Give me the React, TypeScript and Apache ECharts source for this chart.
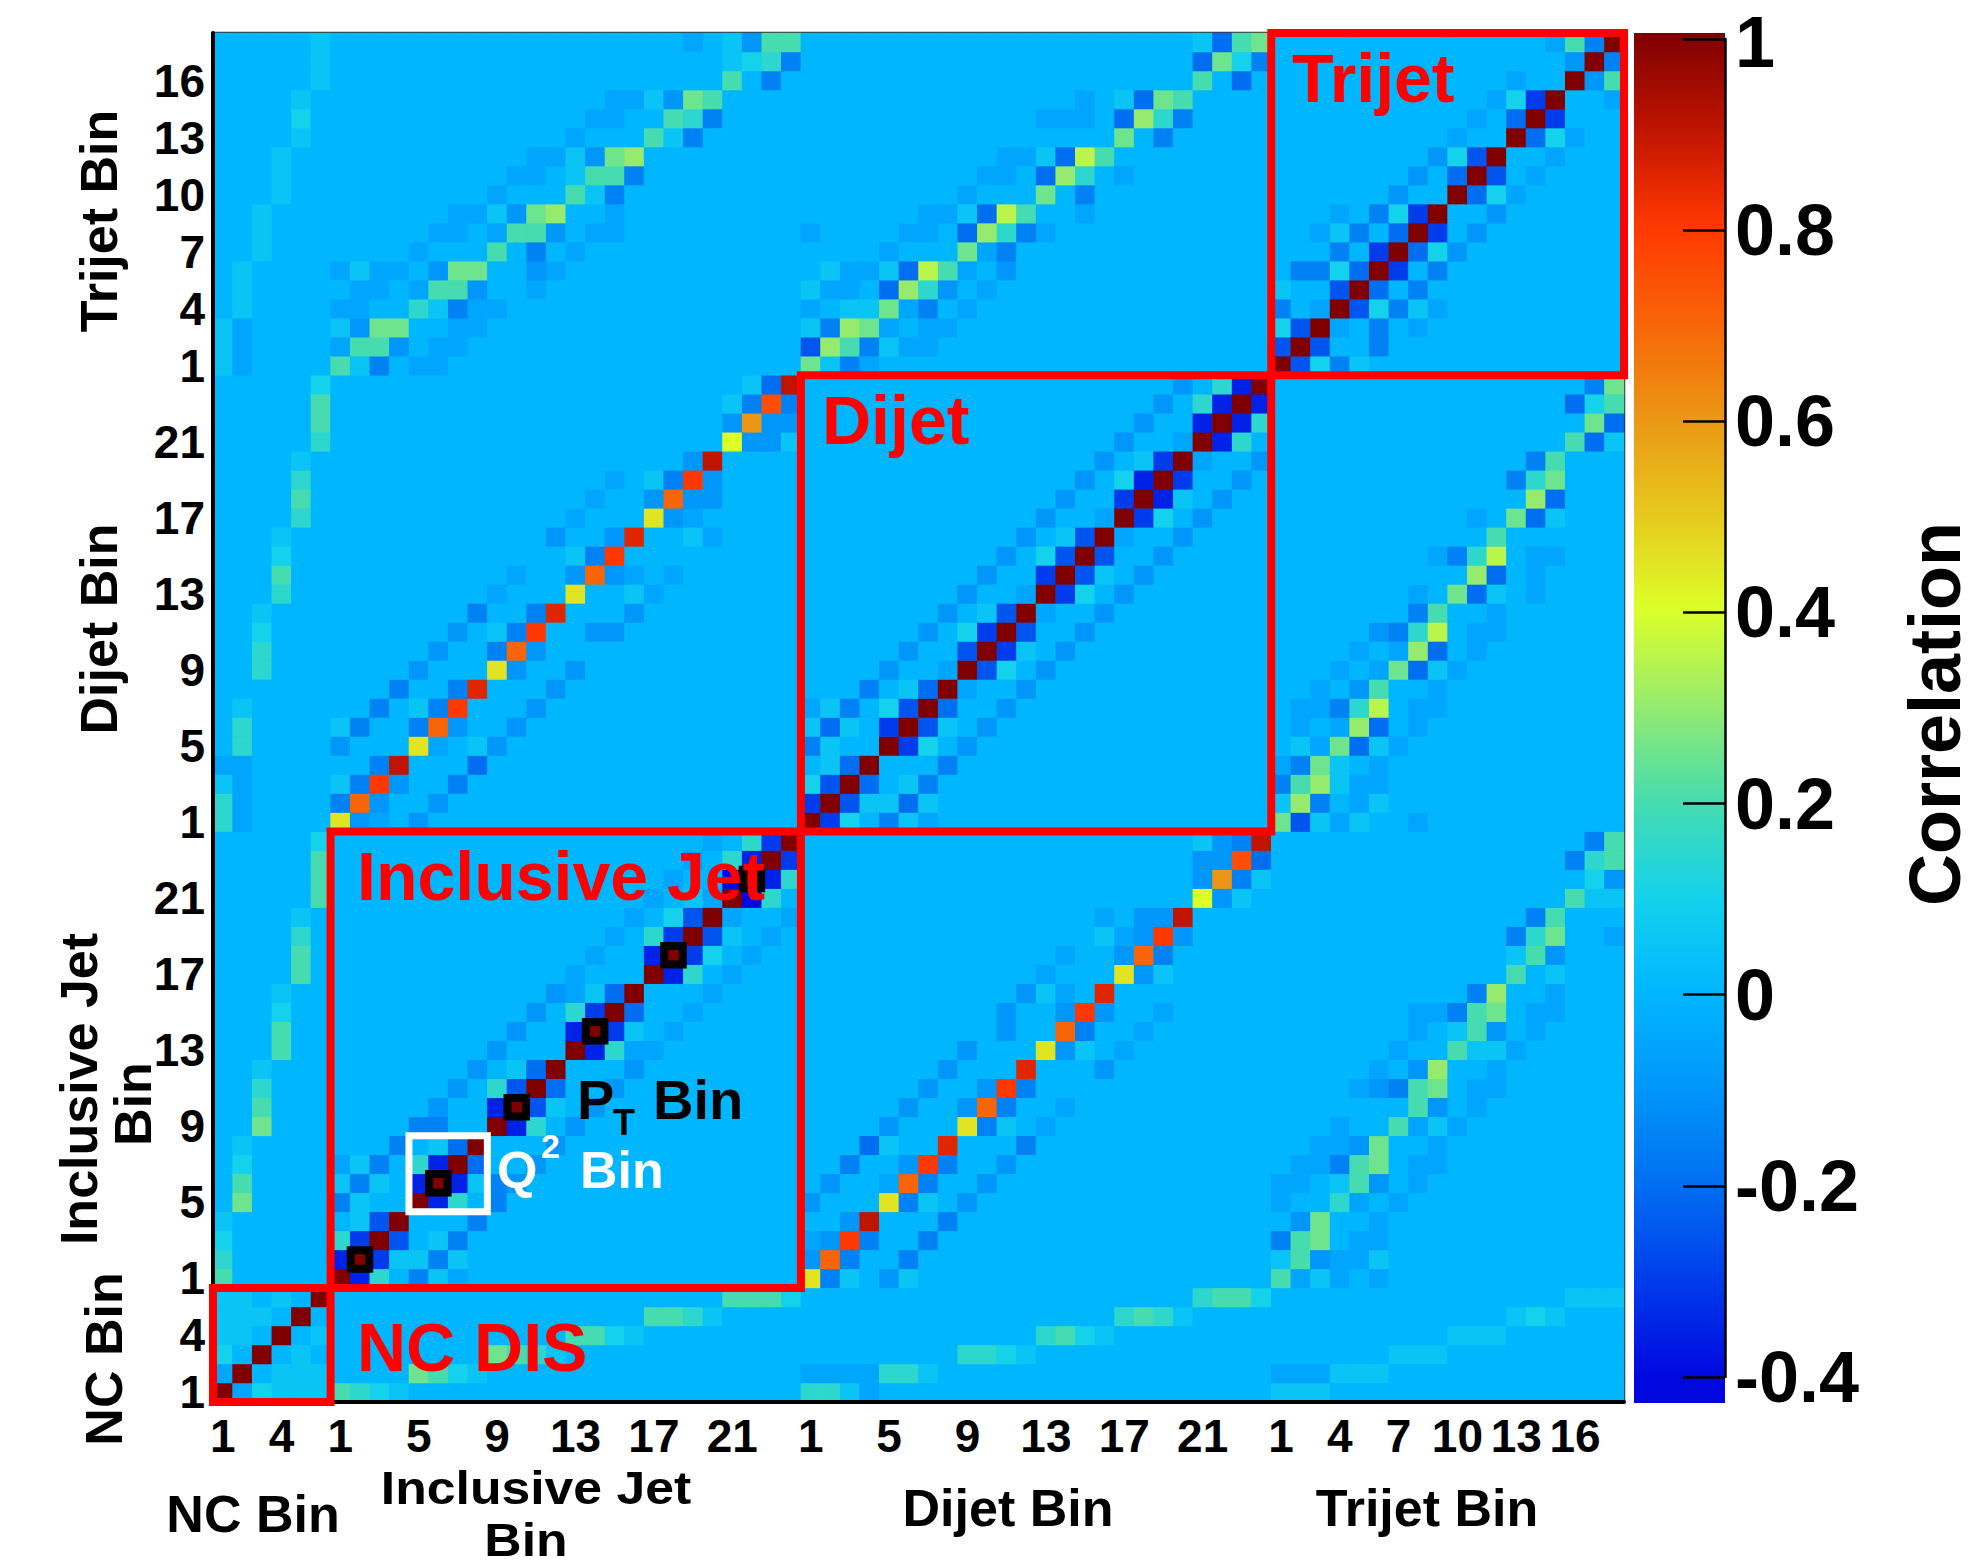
import React, { useEffect, useRef } from 'react';
import * as echarts from 'echarts';

const FONT = '"Liberation Sans", Arial, Helvetica, sans-serif';

// Measurements in matrix order and their number of bins
const blockKeys = ['NC', 'IJ', 'DJ', 'TJ'];
const blockBins = [6, 24, 24, 18];
const blockTitles = ['NC DIS', 'Inclusive Jet', 'Dijet', 'Trijet'];

// Bin numbers that carry a tick label on both axes
const ncTicks = [1, 4];
const incJetTicks = [1, 5, 9, 13, 17, 21];
const dijetTicks = [1, 5, 9, 13, 17, 21];
const trijetTicks = [1, 4, 7, 10, 13, 16];

// Inclusive-jet bins outlined in black (one p_T bin per Q^2 bin) and the Q^2 bin framed in white
const markedIncJetBins = [2, 6, 10, 14, 18, 22];
const q2FrameIncJetBins = [5, 8];

// Correlation codes and the value each code stands for
const levelCodes = 'abcdefgh0ijklmnopqrstuvwxyzYX';
const levelValues = [
  -0.4, -0.35, -0.3, -0.25, -0.2, -0.15, -0.1, -0.05, 0, 0.05, 0.1, 0.15, 0.2, 0.25, 0.3,
  0.35, 0.4, 0.45, 0.5, 0.55, 0.6, 0.65, 0.7, 0.75, 0.8, 0.85, 0.9, 0.95, 1,
];

// Colour scale, -0.4 to 1 in steps of 0.1
const scaleColors = [
  '#0008E0', '#003CEB', '#006EF0', '#0096FA', '#00B6FF', '#14D2EB', '#46DCAF', '#96EB6E',
  '#DCFF28', '#E6C81E', '#EB9614', '#F86408', '#FF3700', '#BE1400', '#800000',
];

// Upper triangle of the symmetric matrix: row i holds bins i..71.
// Blocks are separated by "|", Q^2 groups by spaces.
const ncRows = [
  'Xhjiii | lkji 0000 0000 0000 0000 0000 | kkih 0000 0000 0000 0000 0000 | iii 000 000 000 000 000',
  'X0iii | 0000 mlji 0000 0000 0000 0000 | hhhh kki0 0000 0000 0000 0000 | hhh iii 000 000 000 000',
  'X0i0 | 0000 0000 mlki 0000 0000 0000 | 0000 0000 kkji 0000 0000 0000 | 000 000 iii 000 000 000',
  'X0i | 0000 0000 0000 llji 0000 0000 | 0000 0000 0000 klji 0000 0000 | 000 000 000 iii 000 000',
  'X0 | 0000 0000 0000 0000 llki 0000 | 0000 0000 0000 0000 klki 0000 | 000 000 000 000 iji 000',
  'X | 0000 0000 0000 0000 0000 lllj | 0000 0000 0000 0000 0000 kllj | 000 000 000 000 000 iii',
];

const incJetRows = [
  'Xbk0 fih0 0000 0000 0000 0000 | qfi0 gi00 0000 0000 0000 0000 | lhi h0h 000 000 000 000',
  'Xci ifi0 0000 0000 0000 0000 | gvf0 0f00 0000 0000 0000 0000 | ilg hhi 000 000 000 000',
  'Xd 0if0 0000 0000 0000 0000 | hgxf 00f0 0000 0000 0000 0000 | flm 0hh 000 000 000 000',
  'X 000f 0000 0000 0000 0000 | 00gz 000f 0000 0000 0000 0000 | 0gm 00h 000 000 000 000',
  'Xbk0 f000 0000 0000 0000 | g000 qfi0 g000 0000 0000 0000 | h00 kh0 h00 000 000 000',
  'Xbi fg00 0000 0000 0000 | 0g00 hvf0 0g00 0000 0000 0000 | hh0 ilg 0h0 000 000 000',
  'Xe 00g0 0000 0000 0000 | 00f0 0gxf 00g0 0000 0000 0000 | 0hh flm 0hh 000 000 000',
  'X 000g 0000 0000 0000 | 000e i00y 000f 0000 0000 0000 | 00h hgm 00h 000 000 000',
  'Xbk0 g000 0000 0000 | 0000 g000 qfi0 h000 0000 0000 | 000 h00 lhi h00 000 000',
  'Xdi 0g00 0000 0000 | 0000 0g00 gvf0 0h00 0000 0000 | 000 000 0lg 0h0 000 000',
  'Xe 00g0 0000 0000 | 0000 00g0 0gxf 0000 0000 0000 | 000 0hg flm 0hh 000 000',
  'X 000g 0000 0000 | 0000 000g 000y 000g 0000 0000 | 000 00h 0gn 00h 000 000',
  'Xbkh h000 0000 | 0000 0000 g000 qgi0 h000 0000 | 000 000 h00 lii h00 000',
  'Xci 0h00 0000 | 0000 0000 00g0 0vf0 0h00 0000 | 000 000 0h0 ilg 0h0 000',
  'Xe 00h0 0000 | 0000 0000 00g0 0gxg 00h0 0000 | 000 000 0hh flm 0hh 000',
  'X 000h 0000 | 0000 0000 000g ih0y 0000 0000 | 000 000 000 0fn 00h 000',
  'Xbk0 h000 | 0000 0000 0000 h000 qgi0 0000 | 000 000 000 000 l0i 000',
  'Xcj 0h00 | 0000 0000 0000 0h00 gvf0 0000 | 000 000 000 000 ilg 000',
  'Xd i0h0 | 0000 0000 0000 000i hgxg 0000 | 000 000 000 000 fkm 00h',
  'X h00h | 0000 0000 0000 000h 0ggz 0000 | 000 000 000 000 0fl 000',
  'Xak0 | 0000 0000 0000 0000 0000 pgi0 | 000 000 000 000 000 lii',
  'Xbk | 0000 0000 0000 0000 0000 gtfi | 000 000 000 000 000 0jg',
  'Xc | 0000 0000 0000 0000 0000 ggwe | 000 000 000 000 000 fkl',
  'X | 0000 0000 0000 0000 0000 igfz | 000 000 000 000 000 0fl',
];

const dijetRows = [
  'Xcj0 fih0 0000 0000 0000 0000 | mdi hi0 0h0 000 000 000',
  'Xdi iei0 0000 0000 0000 0000 | inf 0hi 000 000 000 000',
  'Xe 0if0 0000 0000 0000 0000 | fln ihh 000 000 000 000',
  'X 000f 0000 0000 0000 0000 | hfm i0h 000 000 000 000',
  'Xcj0 g000 0000 0000 0000 | 0ih mei h00 000 000 000',
  'Xdi 0g00 0000 0000 0000 | 0h0 hne 0h0 000 000 000',
  'Xe 00g0 0000 0000 0000 | 0hh fko 0hh 000 000 000',
  'X h00g 0000 0000 0000 | 00h 0gl 00h 000 000 000',
  'Xdj0 g000 0000 0000 | 000 h0h mei h00 000 000',
  'Xci 0g00 0000 0000 | 000 0h0 hne 0h0 000 000',
  'Xd 00g0 0000 0000 | 000 00g fko 0hh 000 000',
  'X h00g 0000 0000 | 000 000 0fl 00h 000 000',
  'Xcj0 g000 0000 | 000 000 0h0 mei 0h0 000',
  'Xdi 0g00 0000 | 000 000 000 0ne 0h0 000',
  'Xd 00g0 0000 | 000 000 00h fko 0hh 000',
  'X h00g 0000 | 000 000 000 00l 000 000',
  'Xcj0 g000 | 000 000 000 0h0 mei 000',
  'Xbi 0g00 | 000 000 000 000 0ne 000',
  'Xc 00g0 | 000 000 000 000 fkm 000',
  'X h00g | 000 000 000 000 0fl 000',
  'Xbk0 | 000 000 000 000 000 lei',
  'Xbk | 000 000 000 000 000 0me',
  'Xb | 000 000 000 000 000 ejl',
  'X | 000 000 000 000 000 0fm',
];

const trijetRows = [
  'Xdj fi0 000 000 000 000',
  'Xd 00f 000 000 000 000',
  'X h0f 0h0 000 000 000',
  'Xdj fih 000 000 000',
  'Xe 0f0 000 000 000',
  'X c0f 000 000 000',
  'Xej g00 000 000',
  'Xc 0g0 000 000',
  'X 00g 000 000',
  'Xej h00 000',
  'Xd 0h0 000',
  'X 00h 000',
  'Xej h00',
  'Xc 000',
  'X 00h',
  'Xgl',
  'Xf',
  'X',
];

// ---- layout (pixels) ----
const GRID = { left: 213, top: 33, width: 1411, height: 1369 };
const CB = { left: 1634, width: 91, top: 33, tickBottom: 1377, barBottom: 1403 };

// ---- categories and tick selection ----
const tickLists = [ncTicks, incJetTicks, dijetTicks, trijetTicks];
const categories: string[] = [];
const labelled: boolean[] = [];
const blockStart: number[] = [];
blockBins.forEach((n, b) => {
  blockStart.push(categories.length);
  for (let i = 1; i <= n; i++) {
    categories.push(`${blockKeys[b]} ${i}`);
    labelled.push(tickLists[b].includes(i));
  }
});
const showTick = (index: number) => labelled[index] === true;

// ---- heatmap cells ----
const matrixRows = [...ncRows, ...incJetRows, ...dijetRows, ...trijetRows];
const cells: number[][] = [];
matrixRows.forEach((row, r) => {
  const codes = row.replace(/[\s|]/g, '');
  for (let k = 0; k < codes.length && r + k < categories.length; k++) {
    const idx = levelCodes.indexOf(codes[k]);
    if (idx < 0) continue;
    const c = r + k;
    const v = levelValues[idx];
    cells.push([c, r, v]);
    if (c !== r) cells.push([r, c, v]);
  }
});

const blockRanges = blockBins.map((n, b) => [blockStart[b], blockStart[b] + n - 1]);
const markerCells = markedIncJetBins.map((bin) => [blockStart[1] + bin - 1, blockStart[1] + bin - 1]);
const q2Frame = [[blockStart[1] + q2FrameIncJetBins[0] - 1, blockStart[1] + q2FrameIncJetBins[1] - 1]];

function frame(api: any, s: number, e: number, color: string, width: number) {
  const a = api.coord([s, s]);
  const b = api.coord([e, e]);
  const size = api.size([1, 1]);
  const x0 = a[0] - size[0] / 2;
  const x1 = b[0] + size[0] / 2;
  const y0 = b[1] - size[1] / 2;
  const y1 = a[1] + size[1] / 2;
  return {
    type: 'rect',
    shape: { x: x0, y: y0, width: x1 - x0, height: y1 - y0 },
    style: { fill: 'none', stroke: color, lineWidth: width },
  };
}

// ---- colour bar gradient ----
const cbBottomValue = -0.4 - ((CB.barBottom - CB.tickBottom) / (CB.tickBottom - CB.top)) * 1.4;
const cbStops = scaleColors
  .map((color, i) => {
    const v = -0.4 + 0.1 * i;
    return { offset: (1 - v) / (1 - cbBottomValue), color };
  })
  .reverse();
cbStops.push({ offset: 1, color: scaleColors[0] });

function txt(text: string, x: number, y: number, size: number, o: any = {}) {
  const align = o.align || 'center';
  return {
    type: 'text',
    x,
    y,
    z: 30,
    rotation: o.rotation || 0,
    scaleX: o.scaleX || 1,
    silent: true,
    style: {
      text,
      fill: o.color || '#000',
      fontSize: size,
      fontWeight: 'bold',
      fontFamily: FONT,
      lineHeight: o.lineHeight || Math.round(size * 0.85),
      align,
      verticalAlign: 'middle',
      textAlign: align,
      textVerticalAlign: 'middle',
    },
  };
}

const R90 = Math.PI / 2;

const option: any = {
  animation: false,
  backgroundColor: '#ffffff',
  grid: [
    {
      left: GRID.left,
      top: GRID.top,
      width: GRID.width,
      height: GRID.height,
      show: true,
      backgroundColor: '#00B6FF',
      borderColor: '#333',
      borderWidth: 2.5,
      containLabel: false,
    },
    {
      left: CB.left,
      top: CB.top,
      width: CB.width,
      height: CB.tickBottom - CB.top,
      containLabel: false,
    },
  ],
  xAxis: [
    {
      gridIndex: 0,
      type: 'category',
      data: categories,
      z: 10,
      axisLine: { lineStyle: { color: '#000', width: 4 } },
      axisTick: {
        interval: showTick,
        alignWithLabel: true,
        inside: true,
        length: 11,
        lineStyle: { color: '#000', width: 3 },
      },
      axisLabel: {
        interval: showTick,
        formatter: (v: string) => v.split(' ')[1],
        fontSize: 46,
        lineHeight: 40,
        fontWeight: 'bold',
        fontFamily: FONT,
        color: '#000',
        margin: 14,
      },
      splitLine: { show: false },
    },
    { gridIndex: 1, type: 'category', data: ['bar'], show: false },
  ],
  yAxis: [
    {
      gridIndex: 0,
      type: 'category',
      data: categories,
      z: 10,
      axisLine: { lineStyle: { color: '#000', width: 4 } },
      axisTick: {
        interval: showTick,
        alignWithLabel: true,
        inside: true,
        length: 12,
        lineStyle: { color: '#000', width: 3 },
      },
      axisLabel: {
        interval: showTick,
        formatter: (v: string) => v.split(' ')[1],
        fontSize: 46,
        lineHeight: 42,
        fontWeight: 'bold',
        fontFamily: FONT,
        color: '#000',
        margin: 8,
      },
      splitLine: { show: false },
    },
    {
      gridIndex: 1,
      type: 'value',
      position: 'right',
      min: -0.4,
      max: 1,
      interval: 0.2,
      z: 10,
      axisLine: { show: true, lineStyle: { color: '#000', width: 2.5 } },
      axisTick: { show: true, inside: true, length: 42, lineStyle: { color: '#000', width: 2.5 } },
      axisLabel: {
        formatter: (v: number) => (v === 1 ? '{top|1}' : String(v)),
        fontSize: 72,
        lineHeight: 56,
        fontWeight: 'bold',
        fontFamily: FONT,
        color: '#000',
        margin: 10,
        rich: {
          top: {
            fontSize: 72,
            lineHeight: 50,
            fontWeight: 'bold',
            fontFamily: FONT,
            color: '#000',
            padding: [6, 0, 0, 0],
          },
        },
      },
      splitLine: { show: false },
    },
  ],
  visualMap: {
    type: 'continuous',
    show: false,
    min: -0.4,
    max: 1,
    seriesIndex: 0,
    inRange: { color: scaleColors },
  },
  series: [
    {
      type: 'heatmap',
      xAxisIndex: 0,
      yAxisIndex: 0,
      data: cells,
      progressive: 0,
      itemStyle: { borderWidth: 0 },
      emphasis: { disabled: true },
      silent: true,
    },
    {
      type: 'custom',
      xAxisIndex: 0,
      yAxisIndex: 0,
      z: 20,
      silent: true,
      data: markerCells,
      renderItem: (_p: any, api: any) => {
        const p = api.coord([api.value(0), api.value(1)]);
        const s = 18.5;
        return {
          type: 'rect',
          shape: { x: p[0] - s / 2, y: p[1] - s / 2, width: s, height: s },
          style: { fill: 'none', stroke: '#000', lineWidth: 8 },
        };
      },
    },
    {
      type: 'custom',
      xAxisIndex: 0,
      yAxisIndex: 0,
      z: 20,
      silent: true,
      data: q2Frame,
      renderItem: (_p: any, api: any) => frame(api, api.value(0), api.value(1), '#ffffff', 7),
    },
    {
      type: 'custom',
      xAxisIndex: 0,
      yAxisIndex: 0,
      z: 22,
      silent: true,
      data: blockRanges,
      renderItem: (_p: any, api: any) => frame(api, api.value(0), api.value(1), '#ff0000', 8),
    },
  ],
  graphic: [
    {
      type: 'rect',
      z: 1,
      silent: true,
      shape: { x: CB.left, y: CB.top, width: CB.width, height: CB.barBottom - CB.top },
      style: { fill: new echarts.graphic.LinearGradient(0, 0, 0, 1, cbStops) },
    },
    txt('Correlation', 1935, 714, 72, { rotation: R90 }),
    // bottom axis titles
    txt('NC Bin', 253, 1514, 52),
    txt('Inclusive Jet', 536, 1487, 47, { scaleX: 1.1 }),
    txt('Bin', 526, 1539, 47, { scaleX: 1.1 }),
    txt('Dijet Bin', 1008, 1508, 52),
    txt('Trijet Bin', 1427, 1508, 52),
    // left axis titles
    txt('Trijet Bin', 99, 221, 52, { rotation: R90 }),
    txt('Dijet Bin', 99, 629, 52, { rotation: R90 }),
    txt('Inclusive Jet', 79, 1089, 52, { rotation: R90 }),
    txt('Bin', 133, 1104, 52, { rotation: R90 }),
    txt('NC Bin', 104, 1359, 52, { rotation: R90 }),
    // block names
    txt(blockTitles[0], 357, 1347, 68, { color: '#ff0000', align: 'left' }),
    txt(blockTitles[1], 357, 876, 68, { color: '#ff0000', align: 'left' }),
    txt(blockTitles[2], 822, 420, 68, { color: '#ff0000', align: 'left' }),
    txt(blockTitles[3], 1292, 78, 68, { color: '#ff0000', align: 'left' }),
    // annotations
    txt('P', 577, 1099, 56, { align: 'left' }),
    txt('T', 613, 1122, 36, { align: 'left' }),
    txt('Bin', 653, 1099, 56, { align: 'left' }),
    txt('Q', 497, 1170, 52, { align: 'left', color: '#ffffff' }),
    txt('2', 541, 1146, 34, { align: 'left', color: '#ffffff' }),
    txt('Bin', 580, 1170, 52, { align: 'left', color: '#ffffff' }),
  ],
};

export default function App() {
  const ref = useRef<HTMLDivElement>(null);
  useEffect(() => {
    if (!ref.current) return;
    const chart = echarts.init(ref.current, undefined, { renderer: 'svg' });
    chart.setOption(option);
    return () => chart.dispose();
  }, []);
  return (
    <div
      ref={ref}
      style={{ position: 'absolute', left: 0, top: 0, width: 1986, height: 1565, background: '#fff' }}
    />
  );
}
